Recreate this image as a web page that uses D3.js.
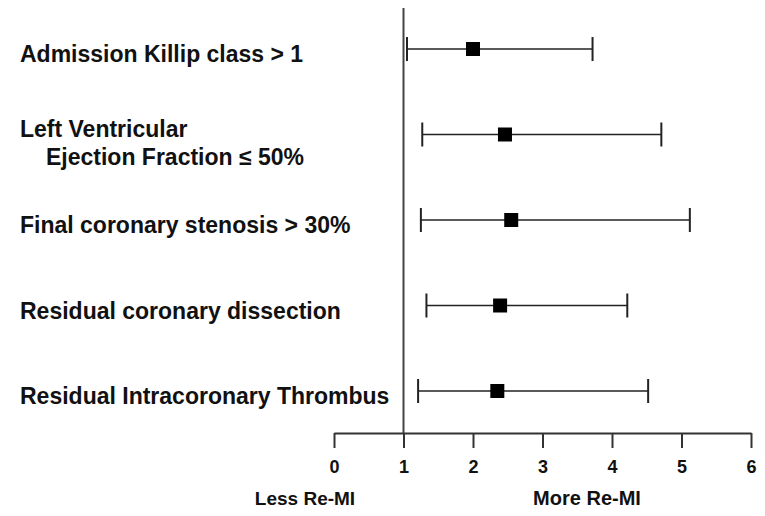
<!DOCTYPE html>
<html lang="en">
<head>
  <meta charset="UTF-8">
  <title>Re-MI predictors</title>
  <script src="https://d3js.org/d3.v7.min.js"></script>
  <style>
    body { margin: 0; background: #fff; }
    text { font-family: "Liberation Sans", Arial, sans-serif; font-weight: bold; fill: #111; }
  </style>
</head>
<body>
  <svg id="forest" width="765" height="516"></svg>
  <script>
    // data
    const labels = [
      ["Admission Killip class > 1"],
      ["Left Ventricular", "Ejection Fraction \u2264 50%"],
      ["Final coronary stenosis > 30%"],
      ["Residual coronary dissection"],
      ["Residual Intracoronary Thrombus"]
    ];
    const estimate = [2.0, 2.46, 2.55, 2.39, 2.35];
    const lower = [1.05, 1.27, 1.25, 1.33, 1.21];
    const upper = [3.72, 4.71, 5.12, 4.22, 4.52];
    const ticks = [0, 1, 2, 3, 4, 5, 6];

    const svg = d3.select("svg#forest");
    const axisY = 433;

    const x = d3.scaleLinear().domain([0, 6]).range([334, 751]);
    const y = d3.scalePoint().domain(d3.range(labels.length)).range([49, 391]);

    // reference line at 1
    svg.append("line")
       .attr("x1", x(1)).attr("x2", x(1))
       .attr("y1", 8).attr("y2", axisY)
       .style("stroke", "#444")
       .style("stroke-width", 2);

    // x axis
    const bottomAxis = d3.axisBottom(x)
                         .tickValues(ticks)
                         .tickFormat(d3.format("d"))
                         .tickSize(15)
                         .tickSizeOuter(0);

    const gx = svg.append("g")
                  .attr("transform", `translate(0,${axisY})`)
                  .call(bottomAxis);
    gx.select(".domain").style("stroke", "#333").style("stroke-width", 2);
    gx.selectAll(".tick line").style("stroke", "#333").style("stroke-width", 2);
    gx.selectAll(".tick text")
      .style("font", "bold 18px 'Liberation Sans', Arial, sans-serif")
      .style("fill", "#111")
      .attr("dy", null)
      .attr("y", 40);

    svg.append("text")
       .attr("x", 305).attr("y", 505)
       .attr("text-anchor", "middle")
       .style("font-size", "19px")
       .text("Less Re-MI");
    svg.append("text")
       .attr("x", 587).attr("y", 505)
       .attr("text-anchor", "middle")
       .style("font-size", "20px")
       .text("More Re-MI");

    const capH = 12;
    const sq = 14;

    labels.forEach((lab, i) => {
      const cy = y(i);

      svg.append("line")
         .attr("x1", x(lower[i])).attr("x2", x(upper[i]))
         .attr("y1", cy).attr("y2", cy)
         .style("stroke", "#222").style("stroke-width", 1.6);
      [lower[i], upper[i]].forEach(v => {
        svg.append("line")
           .attr("x1", x(v)).attr("x2", x(v))
           .attr("y1", cy - capH).attr("y2", cy + capH)
           .style("stroke", "#222").style("stroke-width", 2);
      });
      svg.append("rect")
         .attr("x", x(estimate[i]) - sq / 2)
         .attr("y", cy - sq / 2)
         .attr("width", sq).attr("height", sq)
         .style("fill", "#000");

      if (lab.length === 1) {
        svg.append("text")
           .attr("x", 20).attr("y", cy + 13)
           .style("font-size", "23px")
           .text(lab[0]);
      } else {
        svg.append("text")
           .attr("x", 20).attr("y", cy + 2)
           .style("font-size", "23px")
           .text(lab[0]);
        svg.append("text")
           .attr("x", 46).attr("y", cy + 30)
           .style("font-size", "23px")
           .text(lab[1]);
      }
    });
  </script>
</body>
</html>
